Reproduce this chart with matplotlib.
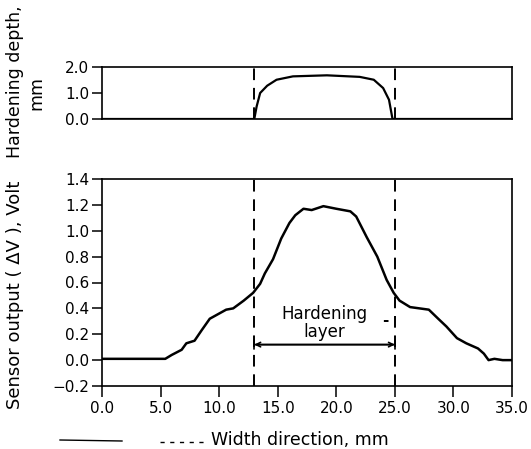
import numpy as np
import matplotlib
matplotlib.use("Agg")
import matplotlib.pyplot as plt
from matplotlib.lines import Line2D

# Profil de durcissement (haut)
depth_x = [0, 13.0, 13.2, 13.5, 14.1, 14.9, 16.3, 19.2, 22.0, 23.2, 24.0, 24.5, 24.8, 35.0]
depth_y = [0, 0, 0.48, 1.0, 1.28, 1.51, 1.64, 1.68, 1.62, 1.51, 1.19, 0.74, 0, 0]

# Sortie du capteur (bas)
sensor_x = [0, 5.4, 5.95, 6.8, 7.2, 7.9, 8.5, 9.2, 9.8, 10.6, 11.2, 12.1, 12.9, 13.5,
            13.9, 14.6, 15.3, 16.0, 16.5, 17.2, 17.9, 18.9, 20.0, 21.2, 21.7, 22.6,
            23.5, 24.3, 24.9, 25.4, 26.3, 27.1, 27.9, 28.7, 29.4, 30.3, 31.1, 32.1,
            32.6, 33.0, 33.5, 34.2, 35.0]
sensor_y = [0.01, 0.01, 0.04, 0.08, 0.13, 0.15, 0.23, 0.32, 0.35, 0.39, 0.40, 0.46, 0.52, 0.59,
            0.67, 0.78, 0.94, 1.06, 1.12, 1.17, 1.16, 1.19, 1.17, 1.15, 1.11, 0.95,
            0.80, 0.62, 0.52, 0.46, 0.41, 0.40, 0.39, 0.32, 0.26, 0.17, 0.13, 0.09,
            0.05, 0.0, 0.01, 0.0, 0.0]

layer_edges = [13.0, 25.0]
x_ticks = [0, 5, 10, 15, 20, 25, 30, 35]
top_ticks = [0.0, 1.0, 2.0]
bottom_ticks = [-0.2, 0.0, 0.2, 0.4, 0.6, 0.8, 1.0, 1.2, 1.4]

W, H = 531, 449
fig = plt.figure(figsize=(W / 100, H / 100), dpi=100)

def box(l, t, r, b):
    return [l / W, 1 - b / H, (r - l) / W, (b - t) / H]

ax1 = fig.add_axes(box(102, 67, 512, 119))
ax2 = fig.add_axes(box(102, 179, 512, 386))

fs = 11
dash = (0, (6, 4))

for ax in (ax1, ax2):
    for s in ax.spines.values():
        s.set_linewidth(1.2)
    ax.set_xlim(0, 35)
    ax.tick_params(axis="y", direction="out", length=7, width=1.1, labelsize=fs, pad=2)
    for v in layer_edges:
        ax.axvline(v, color="black", lw=1.4, linestyle=dash)

ax1.plot(depth_x, depth_y, color="black", lw=1.6)
ax1.set_ylim(0, 2.0)
ax1.set_yticks(top_ticks)
ax1.set_yticklabels([f"{t:.1f}" for t in top_ticks])
ax1.set_xticks([])

ax2.plot(sensor_x, sensor_y, color="black", lw=1.8)
ax2.set_ylim(-0.2, 1.4)
ax2.set_yticks(bottom_ticks)
ax2.set_yticklabels([f"{t:.1f}".replace("-", "\u2212") for t in bottom_ticks])
ax2.set_xticks(x_ticks)
ax2.set_xticklabels([f"{t:.1f}" for t in x_ticks])
ax2.tick_params(axis="x", direction="out", length=8, width=1.1, labelsize=fs, pad=3)

# Couche durcie
ax2.annotate("", xy=(layer_edges[0], 0.12), xytext=(layer_edges[1], 0.12),
             arrowprops=dict(arrowstyle="|-|", color="black", lw=1.2,
                             shrinkA=0, shrinkB=0, mutation_scale=3))
ax2.annotate("", xy=(layer_edges[0], 0.12), xytext=(layer_edges[1], 0.12),
             arrowprops=dict(arrowstyle="<->", color="black", lw=1.2,
                             shrinkA=0, shrinkB=0, mutation_scale=8))
ax2.text(19.0, 0.36, "Hardening", ha="center", va="center", fontsize=12)
ax2.text(19.0, 0.22, "layer", ha="center", va="center", fontsize=12)
ax2.text(24.2, 0.31, "-", ha="center", va="center", fontsize=fs, fontweight="bold")

fig.text(15 / W, 1 - 295 / H, "Sensor output ( \u0394V ), Volt", rotation=90,
         ha="center", va="center", fontsize=13)
fig.text(15 / W, 1 - 158 / H, "Hardening depth,", rotation=90,
         ha="center", va="bottom", fontsize=12.5)
fig.text(36 / W, 1 - 93 / H, "mm", rotation=90, ha="center", va="center", fontsize=12.5)
fig.text(300 / W, 1 - 431 / H, "Width direction, mm", ha="center", va="top", fontsize=12.5)

# traits du bas (scan)
fig.add_artist(Line2D([60 / W, 122 / W], [1 - 440 / H, 1 - 441 / H], color="black", lw=1.0))
fig.add_artist(Line2D([160 / W, 207 / W], [1 - 442 / H, 1 - 442 / H], color="black",
                      lw=1.0, linestyle=(0, (3, 4))))

fig.savefig("out.png", dpi=100)
